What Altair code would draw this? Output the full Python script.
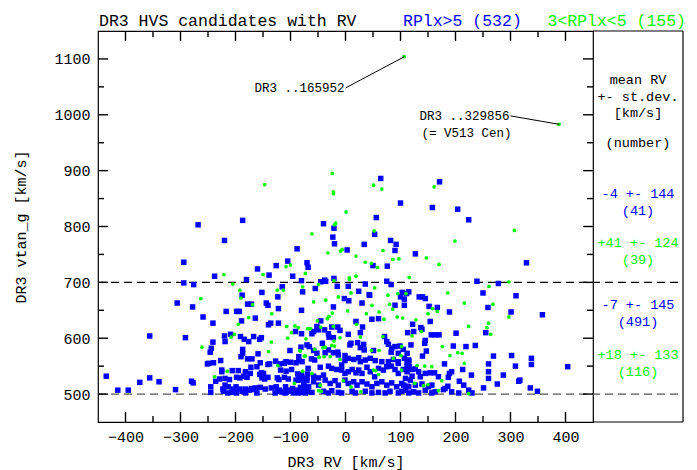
import altair as alt
import pandas as pd

FONT = "Liberation Mono"
BLUE = "#0000ff"
GREEN = "#00ff00"

W, H = 495, 391          # main scatter panel (pixels)
PANEL_R = 585            # right edge of the statistics panel, from plot origin
RV_RANGE = (-450, 450)
VT_RANGE = (450, 1150)

# tick positions every 50; labels and long ticks every 100
rv_ticks = [-400, -350, -300, -250, -200, -150, -100, -50, 0, 50, 100, 150, 200, 250, 300, 350, 400]
vt_ticks = [500, 550, 600, 650, 700, 750, 800, 850, 900, 950, 1000, 1050, 1100]
cut_lines = [700, 500]

# (RV, vtan) for RPlx > 5
blue_points = [
    (-268, 803), (-187, 811), (-40, 805), (-220, 775), (-88, 760), (-294, 736), (-105, 738),
    (-126, 730), (-70, 735), (-68, 727), (-160, 724), (-238, 711), (-139, 713), (-96, 711),
    (-80, 703), (-45, 701), (-38, 704), (-180, 705),
    (-294, 699), (-276, 696), (-115, 692), (-55, 689), (-188, 677), (-123, 674), (-78, 683),
    (-306, 663), (-178, 661), (-171, 661), (-278, 656), (-144, 663), (-141, 659), (-122, 653),
    (-217, 648), (-198, 648), (-193, 648), (-80, 650), (-259, 638), (-164, 636), (-189, 631),
    (-45, 631), (-241, 627), (-140, 624), (-136, 627), (-122, 627), (-52, 621), (-91, 612),
    (-80, 608), (-61, 608), (-356, 604), (-291, 601), (-220, 604), (-209, 607),
    (-251, 554), (-435, 532), (-356, 529), (-374, 521), (-339, 522), (-280, 523), (-277, 520),
    (-414, 507), (-395, 507), (-309, 508),
    (-152, 682), (-219, 594), (-191, 603), (-184, 598), (-176, 594), (-167, 603), (-156, 598),
    (-153, 601), (-241, 593), (-244, 582), (-246, 575), (-187, 580), (-187, 573), (-159, 572),
    (-101, 578), (-81, 584), (-190, 567), (-178, 563), (-170, 563), (-249, 555), (-240, 556),
    (-227, 560), (-155, 556), (-141, 553), (-138, 554), (-172, 548), (-161, 549), (-127, 559),
    (-120, 554), (-111, 555), (-108, 558), (-100, 557), (-90, 556), (-85, 560), (-225, 543),
    (-225, 540), (-206, 542), (-195, 542), (-182, 540), (-173, 537), (-153, 538), (-149, 537),
    (-118, 543), (-108, 541), (-98, 544), (-87, 536), (-80, 535), (-69, 536), (-236, 523),
    (-229, 527), (-219, 528), (-211, 526), (-198, 530), (-192, 529), (-185, 532), (-179, 530),
    (-156, 535), (-152, 529), (-147, 527), (-141, 530), (-124, 529), (-121, 526), (-111, 530),
    (-104, 527), (-90, 525), (-85, 527), (-76, 527), (-70, 524), (-245, 513), (-219, 516),
    (-213, 513), (-223, 509), (-204, 509), (-199, 513), (-192, 509), (-182, 509), (-171, 510),
    (-164, 511), (-155, 512), (-146, 509), (-135, 511), (-126, 513), (-120, 507), (-109, 513),
    (-105, 507), (-96, 510), (-88, 507), (-82, 512), (-73, 511), (-245, 503), (-222, 505),
    (-207, 503), (-201, 504), (-188, 505), (-175, 507), (-165, 508), (-124, 505), (-116, 504),
    (-108, 503), (-100, 505), (-76, 503), (-69, 505), (-214, 502), (-198, 502), (-182, 502),
    (-161, 502), (-128, 502), (-110, 502), (-95, 502), (-85, 502),
    (-2, 671), (6, 667), (43, 678), (100, 674), (107, 670), (111, 680), (-22, 656), (30, 663),
    (48, 634), (60, 635), (90, 659), (107, 659), (19, 630), (31, 620), (27, 610), (-58, 612),
    (-49, 615), (-25, 620), (-14, 620), (-10, 614), (-38, 615), (-22, 601), (-31, 608),
    (-30, 602), (5, 607), (10, 591), (8, 588), (22, 592), (27, 583), (33, 589), (75, 594),
    (78, 589), (71, 603), (34, 579), (51, 578), (83, 575), (84, 582), (90, 585), (99, 586),
    (96, 573), (105, 580), (112, 573), (-70, 588), (-66, 585), (-58, 578), (-52, 573),
    (-42, 591), (-31, 579), (-22, 574), (-14, 575), (-13, 570), (-37, 574), (-62, 563),
    (-56, 561), (-85, 567), (-79, 558), (-1, 569), (5, 564), (-1, 560), (15, 562), (24, 565),
    (27, 558), (36, 561), (45, 564), (54, 560), (66, 558), (78, 558), (87, 562), (96, 558),
    (107, 564), (115, 561), (-68, 546), (-46, 548), (-31, 550), (-25, 546), (-16, 544),
    (-82, 534), (-70, 530), (-58, 532), (-49, 529), (-40, 534), (-7, 552), (-7, 543), (-1, 537),
    (5, 540), (12, 544), (19, 538), (24, 543), (30, 537), (39, 548), (45, 540), (53, 531),
    (60, 546), (69, 543), (75, 549), (83, 550), (90, 544), (96, 537), (105, 544), (112, 550),
    (-85, 525), (-76, 518), (-67, 513), (-58, 522), (-49, 516), (-37, 525), (-28, 519),
    (-19, 524), (-13, 516), (-1, 525), (5, 519), (15, 522), (21, 516), (30, 522), (39, 518),
    (48, 513), (57, 519), (66, 522), (75, 516), (84, 520), (93, 513), (102, 519), (112, 514),
    (-79, 505), (-61, 503), (-40, 505), (-25, 506), (-13, 503), (12, 505), (36, 505), (60, 503),
    (81, 505), (102, 505), (-73, 502), (-31, 502), (-7, 502), (18, 502), (48, 502), (72, 502),
    (96, 502),
    (103, 682), (115, 683), (134, 674), (140, 674), (145, 671), (250, 681), (259, 655),
    (152, 657), (167, 655), (189, 647), (154, 630), (122, 625), (137, 619), (139, 616),
    (255, 610), (113, 610), (124, 612), (145, 596), (156, 606), (163, 606), (170, 606),
    (201, 609), (144, 591), (147, 577), (119, 588), (196, 586), (219, 585), (236, 587),
    (269, 568), (287, 534), (260, 554), (260, 540), (260, 528), (276, 518), (180, 554),
    (213, 544), (229, 534), (207, 523), (193, 540), (189, 537), (187, 530), (186, 514),
    (215, 516), (224, 507), (251, 511), (230, 502), (193, 504), (178, 508), (169, 531),
    (96, 555), (112, 556), (116, 549), (121, 544), (127, 545), (112, 540), (121, 532),
    (133, 540), (136, 531), (145, 537), (154, 538), (162, 538), (109, 528), (118, 525),
    (106, 516), (115, 513), (127, 516), (139, 518), (151, 513), (157, 516), (109, 507),
    (124, 504), (145, 507), (163, 504), (181, 510), (115, 502), (133, 502), (157, 502),
    (206, 502), (115, 558), (140, 568),
    (278, 698), (310, 676), (301, 647), (358, 642), (302, 569), (338, 564), (309, 550),
    (338, 553), (404, 549), (315, 523), (317, 525), (336, 511), (349, 505),
    (64, 886), (171, 880), (100, 842), (158, 834), (204, 831), (56, 816), (224, 812),
    (-21, 797), (53, 786), (-23, 781), (-20, 769), (82, 775), (92, 768), (34, 768), (3, 758),
    (90, 757), (127, 751), (50, 730), (76, 729), (329, 735), (-21, 707), (-36, 702), (75, 702),
    (239, 702), (36, 697), (83, 696), (-15, 693), (5, 693), (44, 677), (24, 684),
]

# (RV, vtan) for 3 < RPlx < 5
green_points = [
    (-147, 875), (-61, 787), (-32, 753), (-108, 728), (-100, 731), (-73, 716), (-221, 714),
    (-150, 714), (-49, 696), (-205, 697), (-78, 692), (-192, 686), (-124, 686), (-113, 686),
    (-190, 672), (-263, 671), (-58, 665), (-36, 668), (-169, 660), (-134, 644), (-176, 637),
    (-51, 631), (-195, 625), (-107, 621), (-92, 622), (-86, 619), (-69, 617), (-64, 617),
    (-45, 620), (-98, 610), (-202, 607), (-261, 584),
    (-105, 600), (-72, 599), (-208, 602), (-135, 593), (-140, 576), (-82, 577), (-123, 551),
    (-73, 568), (-215, 541), (-78, 541), (-238, 531), (-93, 519),
    (-13, 674), (10, 681), (77, 677), (95, 680), (-24, 645), (-30, 639), (-33, 635), (4, 649),
    (48, 659), (38, 644), (61, 647), (70, 634), (80, 661), (86, 652), (94, 638), (104, 636),
    (20, 625), (27, 602), (-22, 621), (-10, 601), (-21, 595), (68, 603), (47, 578), (61, 578),
    (101, 569), (102, 585), (-83, 578), (-75, 568), (-56, 580), (-41, 583), (-37, 584),
    (-25, 587), (-20, 586), (-39, 567), (-48, 566), (-28, 567), (-10, 562), (87, 564),
    (102, 543), (60, 535), (51, 543), (55, 542), (-61, 537), (-4, 524), (10, 513), (-46, 516),
    (-49, 506), (-44, 505), (28, 504),
    (110, 680), (186, 681), (216, 663), (268, 661), (158, 653), (167, 648), (150, 644),
    (128, 633), (224, 621), (260, 627), (257, 619), (264, 607), (121, 604), (138, 612),
    (176, 585), (190, 569), (204, 574), (212, 573), (216, 555), (175, 524), (169, 506),
    (224, 501), (126, 519), (142, 515), (150, 517), (130, 551), (144, 550), (157, 549),
    (297, 701), (297, 638),
    (-24, 895), (-22, 862), (-22, 859), (51, 874), (66, 867), (161, 871), (1, 826), (-18, 806),
    (-20, 803), (52, 792), (307, 793), (199, 774), (-6, 759), (-9, 756), (68, 757), (19, 747),
    (147, 744), (86, 741), (97, 742), (36, 736), (47, 734), (58, 727), (170, 732), (116, 709),
    (7, 708), (7, 705), (19, 711), (-21, 703), (53, 690), (261, 693),
    (107, 1104), (388, 983),
]

# named stars: label anchor (lrv, lvt) joined to the star (rv, vt)
named_stars = pd.DataFrame({
    "rv": [107, 388],
    "vt": [1104, 983],
    "lrv": [0, 300],
    "lvt": [1048, 998],
    "name": ["DR3 ..165952", "DR3 ..329856"],
})
alias_label = pd.DataFrame({"rv": [302], "vt": [968], "name": ["(= V513 Cen)"]})

blue_df = pd.DataFrame(blue_points, columns=["rv", "vt"])
green_df = pd.DataFrame(green_points, columns=["rv", "vt"])

xs = alt.Scale(domain=list(RV_RANGE), nice=False, zero=False)
ys = alt.Scale(domain=list(VT_RANGE), nice=False, zero=False)

MAJOR = "datum.value % 100 === 0"

x_axis = alt.Axis(
    values=rv_ticks, format="d", title="DR3 RV [km/s]",
    labelExpr=f"{MAJOR} ? datum.label : ''",
    ticks=False, tickSize=0, domain=False, grid=False,
    labelFont=FONT, labelFontSize=15, labelColor="black", labelPadding=7,
    labelFlush=False, labelOverlap=False,
    titleFont=FONT, titleFontSize=15, titleFontWeight="normal", titleColor="black", titleY=32,
)
y_axis = alt.Axis(
    values=vt_ticks, format="d", title="DR3 vtan_g [km/s]",
    labelExpr=f"{MAJOR} ? datum.label : ''",
    ticks=False, tickSize=0, domain=False, grid=False,
    labelFont=FONT, labelFontSize=15, labelColor="black", labelPadding=8,
    labelFlush=False, labelOverlap=False,
    titleFont=FONT, titleFontSize=15, titleFontWeight="normal", titleColor="black", titleX=-70,
)


def X(field):
    return alt.X(f"{field}:Q", scale=xs, axis=x_axis)


def Y(field):
    return alt.Y(f"{field}:Q", scale=ys, axis=y_axis)


blue = alt.Chart(blue_df).mark_square(size=30, color=BLUE, opacity=1).encode(x=X("rv"), y=Y("vt"))
green = alt.Chart(green_df).mark_circle(size=14, color=GREEN, opacity=1).encode(x=X("rv"), y=Y("vt"))

cuts = alt.Chart(pd.DataFrame({"vt": cut_lines, "c": ["black", "#555555"]})).mark_rule(
    strokeDash=[8, 5], strokeWidth=1.3
).encode(y=Y("vt"), x=alt.value(0), x2=alt.value(PANEL_R), color=alt.Color("c:N", scale=None))


# inward ticks on every side of the scatter panel; long for multiples of 100
def tick_table(values, name):
    return pd.DataFrame({
        name: values,
        "c": ["black"] * len(values),
        "major": [v % 100 == 0 for v in values],
    })


rv_tab = tick_table(rv_ticks, "tv")
vt_tab = tick_table(vt_ticks, "tv")
tick_layers = []
for major, length in [(True, 10), (False, 6)]:
    rv_part = rv_tab[rv_tab["major"] == major]
    vt_part = vt_tab[vt_tab["major"] == major]
    for y0, y1 in [(H, H - length), (0, length)]:
        tick_layers.append(
            alt.Chart(rv_part).mark_rule(strokeWidth=1.4, strokeDash=[40, 0])
            .encode(x=X("tv"), y=alt.value(y0), y2=alt.value(y1),
                    color=alt.Color("c:N", scale=None))
        )
    for x0, x1 in [(0, length), (W, W - length)]:
        tick_layers.append(
            alt.Chart(vt_part).mark_rule(strokeWidth=1.4, strokeDash=[40, 0])
            .encode(y=Y("tv"), x=alt.value(x0), x2=alt.value(x1),
                    color=alt.Color("c:N", scale=None))
        )

# frame of the statistics panel
frame_layers = [
    alt.Chart(pd.DataFrame({"k": [0]})).mark_rule(color="black", strokeWidth=1.2)
    .encode(x=alt.value(PANEL_R), y=alt.value(0), y2=alt.value(H)),
    alt.Chart(pd.DataFrame({"k": [1]})).mark_rule(color="black", strokeWidth=1.2)
    .encode(x=alt.value(W), x2=alt.value(PANEL_R), y=alt.value(0)),
    alt.Chart(pd.DataFrame({"k": [2]})).mark_rule(color="black", strokeWidth=1.2)
    .encode(x=alt.value(W), x2=alt.value(PANEL_R), y=alt.value(H)),
]

# leader lines and labels for the two named stars
leaders = alt.Chart(named_stars).mark_rule(color="black", strokeWidth=1).encode(
    x=X("lrv"), y=Y("lvt"), x2="rv:Q", y2="vt:Q")
star_names = alt.Chart(named_stars).mark_text(
    font=FONT, fontSize=12.5, align="right", baseline="middle", dx=-1, color="black"
).encode(x=X("lrv"), y=Y("lvt"), text="name:N")
alias = alt.Chart(alias_label).mark_text(
    font=FONT, fontSize=12.5, align="right", baseline="middle", color="black"
).encode(x=X("rv"), y=Y("vt"), text="name:N")


def label(text, x, y, color="black", size=13.5, align="center"):
    return alt.Chart(pd.DataFrame({"t": [text]})).mark_text(
        font=FONT, fontSize=size, align=align, baseline="middle", color=color
    ).encode(text="t:N", x=alt.value(x), y=alt.value(y))


header = [
    label("DR3 HVS candidates with RV", 1, -10, size=16.5, align="left"),
    label("RPlx>5 (532)", 305, -10, BLUE, size=16.5, align="left"),
    label("3<RPlx<5 (155)", 588, -10, GREEN, size=16.5, align="right"),
]

cx = (W + PANEL_R) / 2
stats = [
    label("mean RV", cx, 49),
    label("+- st.dev.", cx, 66),
    label("[km/s]", cx, 82),
    label("(number)", cx, 112),
    label("-4 +- 144", cx, 163, BLUE),
    label("(41)", cx, 180, BLUE),
    label("+41 +- 124", cx, 212, GREEN),
    label("(39)", cx, 229, GREEN),
    label("-7 +- 145", cx, 274, BLUE),
    label("(491)", cx, 291, BLUE),
    label("+18 +- 133", cx, 324, GREEN),
    label("(116)", cx, 341, GREEN),
]

chart = alt.layer(
    cuts, *tick_layers, blue, green, leaders, star_names, alias, *frame_layers, *header, *stats
).properties(
    width=W, height=H,
    autosize=alt.AutoSizeParams(type="none"),
    padding={"left": 98, "top": 31, "right": 104, "bottom": 48},
    background="white",
).configure_view(stroke="black", strokeWidth=1.2)

chart.save("out.html", embed_options={"renderer": "svg", "actions": False})
